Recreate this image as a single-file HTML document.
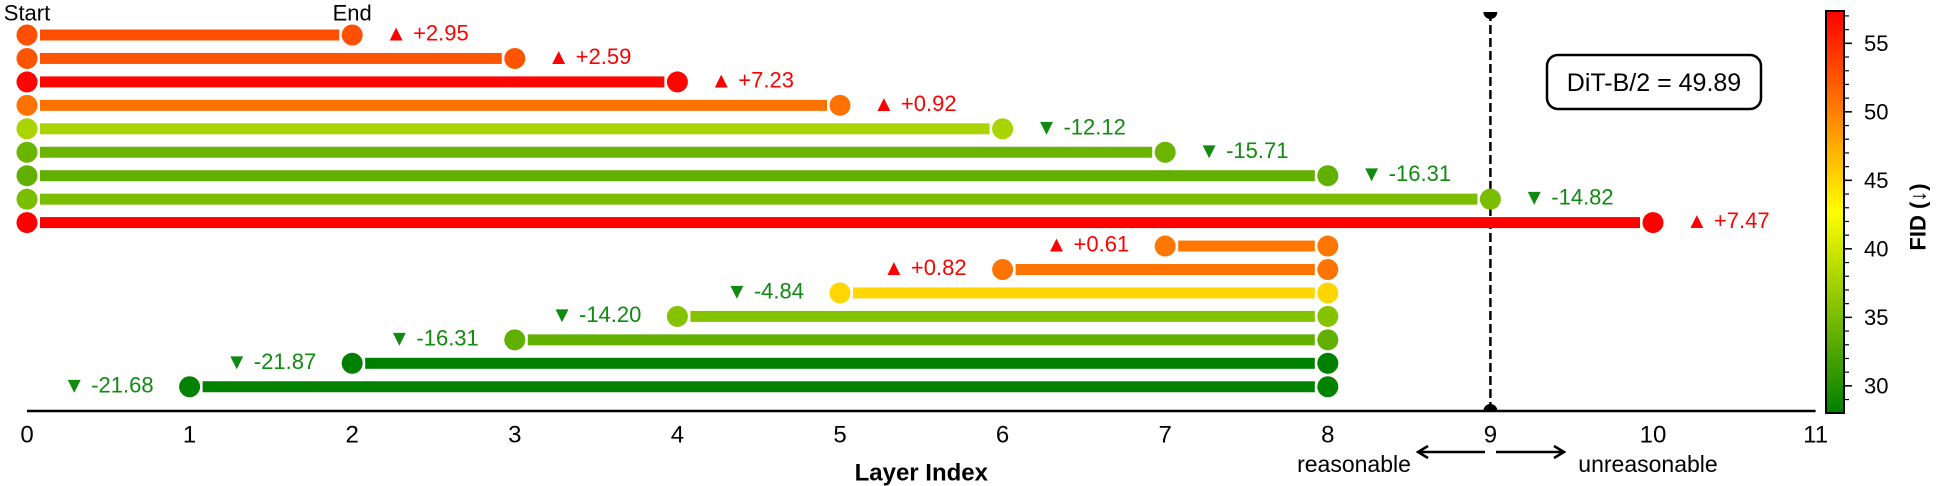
<!DOCTYPE html>
<html><head><meta charset="utf-8">
<style>
html,body{margin:0;padding:0;background:#fff;}
svg{display:block;font-family:"Liberation Sans","DejaVu Sans",sans-serif;}
</style></head>
<body>
<svg id="chart" width="1936" height="486" viewBox="0 0 1936 486" xmlns="http://www.w3.org/2000/svg">
<defs>
<linearGradient id="cmap" x1="0" y1="1" x2="0" y2="0">
<stop offset="0" stop-color="rgb(0,128,0)"/>
<stop offset="0.5" stop-color="rgb(255,255,0)"/>
<stop offset="1" stop-color="rgb(255,0,0)"/>
</linearGradient>
<clipPath id="axclip"><rect x="0" y="12" width="1830" height="399"/></clipPath>
</defs>
<g id="marks"></g>
<g id="axes"></g>
<g id="cbar"></g>
</svg>
<script>
const starts = [0,0,0,0,0,0,0,0,0,7,6,5,4,3,2,1];
const ends   = [2,3,4,5,6,7,8,9,10,8,8,8,8,8,8,8];
const deltas = [2.95,2.59,7.23,0.92,-12.12,-15.71,-16.31,-14.82,7.47,0.61,0.82,-4.84,-14.20,-16.31,-21.87,-21.68];
const baseline = 49.89;
const xTicks = [0,1,2,3,4,5,6,7,8,9,10,11];
const cbTicks = [30,35,40,45,50,55];

const NS='http://www.w3.org/2000/svg';
const X0=27, UNIT=162.6;
const xs = v => X0 + UNIT*v;
const ROW0=35, ROWH=23.45;
const ys = i => ROW0 + ROWH*i;
const VMIN=28.02, VMAX=57.36, CBTOP=11, CBBOT=413;
const cy = v => CBBOT - (v-VMIN)/(VMAX-VMIN)*(CBBOT-CBTOP);
function cmap(v){
  let t=Math.max(0,Math.min(1,(v-VMIN)/(VMAX-VMIN)));
  let r,g,b=0;
  if(t<0.5){const s=t/0.5; r=255*s; g=128+127*s;}
  else {const s=(t-0.5)/0.5; r=255; g=255*(1-s);}
  return `rgb(${Math.round(r)},${Math.round(g)},${b})`;
}
function el(tag, attrs, parent, text){
  const e=document.createElementNS(NS,tag);
  for(const k in attrs) e.setAttribute(k,attrs[k]);
  if(text!==undefined) e.textContent=text;
  parent.appendChild(e); return e;
}
const marks=document.getElementById('marks');
const axes=document.getElementById('axes');
const cbar=document.getElementById('cbar');

const vl=el('line',{x1:xs(9),x2:xs(9),y1:12,y2:411,stroke:'#000','stroke-width':2.5,'stroke-dasharray':'9,4'},marks);


const cg=el('g',{'clip-path':'url(#axclip)'},marks);
const m1=el('circle',{cx:xs(9),cy:12,r:7,fill:'#000'},cg);


const m2=el('circle',{cx:xs(9),cy:411,r:7,fill:'#000'},cg);



for(let i=0;i<starts.length;i++){
  const v=baseline+deltas[i];
  const c=cmap(v);
  const y=ys(i);
  const x1=xs(starts[i]), x2=xs(ends[i]);
  const g=el('g',{},marks);
  
  
  el('rect',{x:x1+13,y:y-5.5,width:Math.max(0,x2-x1-26),height:11,fill:c},g);
  el('circle',{cx:x1,cy:y,r:10.5,fill:c},g);
  el('circle',{cx:x2,cy:y,r:10.5,fill:c},g);
  const up=deltas[i]>0;
  const txt=(up?'▲ +':'▼ ')+deltas[i].toFixed(2);
  const left=starts[i]===0;
  const t=el('text',{x:left?x2+33:x1-36,y:y-2,'font-size':22,'dominant-baseline':'central','text-anchor':left?'start':'end',fill:up?'#f00':'#108a10'},marks,txt);
  
  
}

const st=el('text',{x:xs(0),y:13,'font-size':22,'text-anchor':'middle','dominant-baseline':'central',fill:'#000'},axes,'Start');


const en=el('text',{x:xs(2),y:13,'font-size':22,'text-anchor':'middle','dominant-baseline':'central',fill:'#000'},axes,'End');



const ax=el('line',{x1:xs(0),x2:xs(11),y1:411,y2:411,stroke:'#000','stroke-width':2.5},axes);


for(const t of xTicks){
  const tl=el('text',{x:xs(t),y:435,'font-size':24,'text-anchor':'middle','dominant-baseline':'central',fill:'#000'},axes,String(t));
  
  
}
const xt=el('text',{x:xs(5.5),y:473,'font-size':24,'font-weight':'bold','text-anchor':'middle','dominant-baseline':'central',fill:'#000'},axes,'Layer Index');


const rs=el('text',{x:1354,y:464,'font-size':23,'text-anchor':'middle','dominant-baseline':'central',fill:'#000'},axes,'reasonable');


const us=el('text',{x:1648,y:464,'font-size':23,'text-anchor':'middle','dominant-baseline':'central',fill:'#000'},axes,'unreasonable');


const la=el('path',{d:'M1485 452 L1418 452 M1428 446 L1418 452 L1428 458',stroke:'#000','stroke-width':2.5,fill:'none'},axes);


const ra=el('path',{d:'M1496 452 L1564 452 M1554 446 L1564 452 L1554 458',stroke:'#000','stroke-width':2.5,fill:'none'},axes);



const bx=el('rect',{x:1547,y:55,width:214,height:54,rx:11,fill:'#fff',stroke:'#000','stroke-width':2.5},axes);


const bt=el('text',{x:1654,y:83,'font-size':25,'text-anchor':'middle','dominant-baseline':'central',fill:'#000'},axes,'DiT-B/2 = '+baseline.toFixed(2));



const cr=el('rect',{x:1826,y:CBTOP,width:18,height:CBBOT-CBTOP,fill:'url(#cmap)',stroke:'#000','stroke-width':2},cbar);


for(let v=29;v<=57;v++){
  el('line',{x1:1845,x2:1849,y1:cy(v),y2:cy(v),stroke:'#000','stroke-width':1.2},cbar);
}
for(const v of cbTicks){
  el('line',{x1:1845,x2:1852,y1:cy(v),y2:cy(v),stroke:'#000','stroke-width':1.5},cbar);
  const l=el('text',{x:1864,y:cy(v),'font-size':22,'dominant-baseline':'central',fill:'#000'},cbar,String(v));
  
  
}
const ct=el('text',{x:1918,y:217,'font-size':22,'font-weight':'bold','text-anchor':'middle','dominant-baseline':'central',fill:'#000',transform:'rotate(-90 1918 217)'},cbar,'FID (↓)');


</script>
</body></html>
